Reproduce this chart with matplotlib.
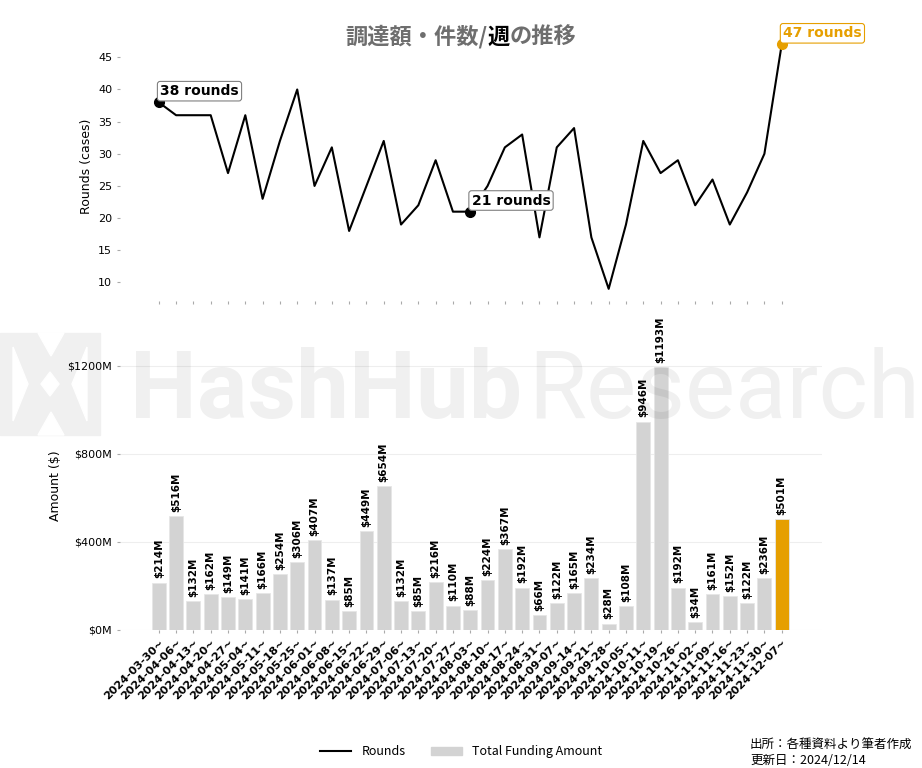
import numpy as np
import matplotlib.pyplot as plt
from matplotlib.lines import Line2D
from matplotlib.patches import Patch, Rectangle, Polygon

weeks = ["2024-03-30~", "2024-04-06~", "2024-04-13~", "2024-04-20~", "2024-04-27~",
         "2024-05-04~", "2024-05-11~", "2024-05-18~", "2024-05-25~", "2024-06-01~",
         "2024-06-08~", "2024-06-15~", "2024-06-22~", "2024-06-29~", "2024-07-06~",
         "2024-07-13~", "2024-07-20~", "2024-07-27~", "2024-08-03~", "2024-08-10~",
         "2024-08-17~", "2024-08-24~", "2024-08-31~", "2024-09-07~", "2024-09-14~",
         "2024-09-21~", "2024-09-28~", "2024-10-05~", "2024-10-11~", "2024-10-19~",
         "2024-10-26~", "2024-11-02~", "2024-11-09~", "2024-11-16~", "2024-11-23~",
         "2024-11-30~", "2024-12-07~"]
rounds = [38, 36, 36, 36, 27, 36, 23, 32, 40, 25, 31, 18, 25, 32, 19, 22, 29, 21, 21,
          25, 31, 33, 17, 31, 34, 17, 9, 19, 32, 27, 29, 22, 26, 19, 24, 30, 47]
amounts = [214, 516, 132, 162, 149, 141, 166, 254, 306, 407, 137, 85, 449, 654, 132,
           85, 216, 110, 88, 224, 367, 192, 66, 122, 165, 234, 28, 108, 946, 1193,
           192, 34, 161, 152, 122, 236, 501]
marked = [0, 18, 36]

ORANGE = "#E69F00"
W, H = 922, 768


def px(x, y):
    return (x / W, 1 - y / H)


fig = plt.figure(figsize=(9.22, 7.68), dpi=100)
ax1 = fig.add_axes([0.130, 0.608, 0.761, 0.350])
ax2 = fig.add_axes([0.130, 0.180, 0.761, 0.376])
x = np.arange(len(weeks))

# rounds line
ax1.plot(x, rounds, color="black", lw=1.5)
for i in marked:
    c = ORANGE if i == len(x) - 1 else "black"
    ec = ORANGE if i == len(x) - 1 else "gray"
    ax1.plot(x[i], rounds[i], "o", color=c, ms=7)
    ax1.annotate(f"{rounds[i]} rounds", xy=(x[i], rounds[i]), xytext=(1, 3),
                 textcoords="offset points", ha="left", va="bottom",
                 fontsize=10, fontweight="bold", color=c,
                 bbox=dict(boxstyle="round,pad=0.2", fc="white", ec=ec, lw=0.8))
ax1.set_xlim(-2.25, 38.3)
ax1.set_ylim(7.1, 48.9)
ax1.set_yticks([10, 15, 20, 25, 30, 35, 40, 45])
ax1.set_xticks(x)
ax1.set_ylabel("Rounds (cases)", fontsize=9)
ax1.tick_params(axis="x", length=2, color="#aaaaaa", labelbottom=False)
ax1.tick_params(axis="y", length=2, color="#aaaaaa", labelsize=8)
for s in ax1.spines.values():
    s.set_visible(False)

# funding bars
colors = ["#d3d3d3"] * (len(x) - 1) + [ORANGE]
bars = ax2.bar(x, amounts, width=0.8, color=colors, edgecolor="#e6e6e6", lw=0.6, zorder=2)
ax2.bar_label(bars, labels=[f"${v}M" for v in amounts], rotation=90, padding=3,
              fontsize=7.5, fontweight="bold")
ax2.set_xlim(-2.25, 38.3)
ax2.set_ylim(0, 1312)
ax2.set_yticks([0, 400, 800, 1200])
ax2.set_yticklabels(["$0M", "$400M", "$800M", "$1200M"])
ax2.set_xticks(x)
ax2.set_xticklabels(weeks, rotation=45, ha="right", rotation_mode="anchor",
                    fontsize=8, fontweight="bold")
ax2.set_ylabel("Amount ($)", fontsize=9)
ax2.grid(axis="y", color="#eeeeee", lw=0.8, zorder=0)
ax2.tick_params(axis="both", length=2, color="#aaaaaa")
ax2.tick_params(axis="y", labelsize=8)
for s in ax2.spines.values():
    s.set_visible(False)

# watermark logo: a block with white cut-outs
wm = "#f0f0f0"
fig.add_artist(Rectangle(px(0, 435), 100 / W, 102 / H, transform=fig.transFigure,
                         color=wm, zorder=0))
holes = [
    [(13, 347), (13, 421), (28, 384)],
    [(87, 347), (87, 421), (72, 384)],
    [(38, 333), (64, 333), (51, 356)],
    [(38, 435), (64, 435), (51, 412)],
    [(50, 372), (59, 384), (50, 396), (41, 384)],
]
for hole in holes:
    fig.add_artist(Polygon([px(a, b) for a, b in hole], transform=fig.transFigure,
                           color="white", zorder=0))
fig.text(*px(130, 418), "HashHub", family="Roboto", fontweight="bold", fontsize=68,
         color="black", alpha=0.06, va="baseline", zorder=10)
fig.text(*px(528, 418), "Research", family="Roboto", fontsize=68,
         color="black", alpha=0.06, va="baseline", zorder=10)

# title in three parts (週 darker)
r = fig.canvas.get_renderer()
parts = [("調達額・件数/", "#6e6e6e"), ("週", "black"), ("の推移", "#6e6e6e")]
texts = []
for s, c in parts:
    texts.append(fig.text(0, px(0, 37)[1], s, family=["Noto Sans CJK JP", "DejaVu Sans"],
                          fontsize=16, fontweight="bold", color=c, va="center"))
widths = [t.get_window_extent(r).width for t in texts]
x0 = 461 - sum(widths) / 2
for t, w in zip(texts, widths):
    t.set_x(x0 / W)
    x0 += w

# legend and source
handles = [Line2D([0], [0], color="black", lw=1.5), Patch(color="#d3d3d3")]
fig.legend(handles, ["Rounds", "Total Funding Amount"], loc="center",
           bbox_to_anchor=(0.5, 0.021), ncol=2, frameon=False,
           prop={"family": "Noto Sans CJK JP", "size": 9}, handlelength=2.5)
fig.text(*px(750, 745), "出所：各種資料より筆者作成", family=["Noto Sans CJK JP"],
         fontsize=9, va="center")
fig.text(*px(750, 760), "更新日：2024/12/14", family=["Noto Sans CJK JP"],
         fontsize=9, va="center")

fig.savefig("out.png", dpi=100)
